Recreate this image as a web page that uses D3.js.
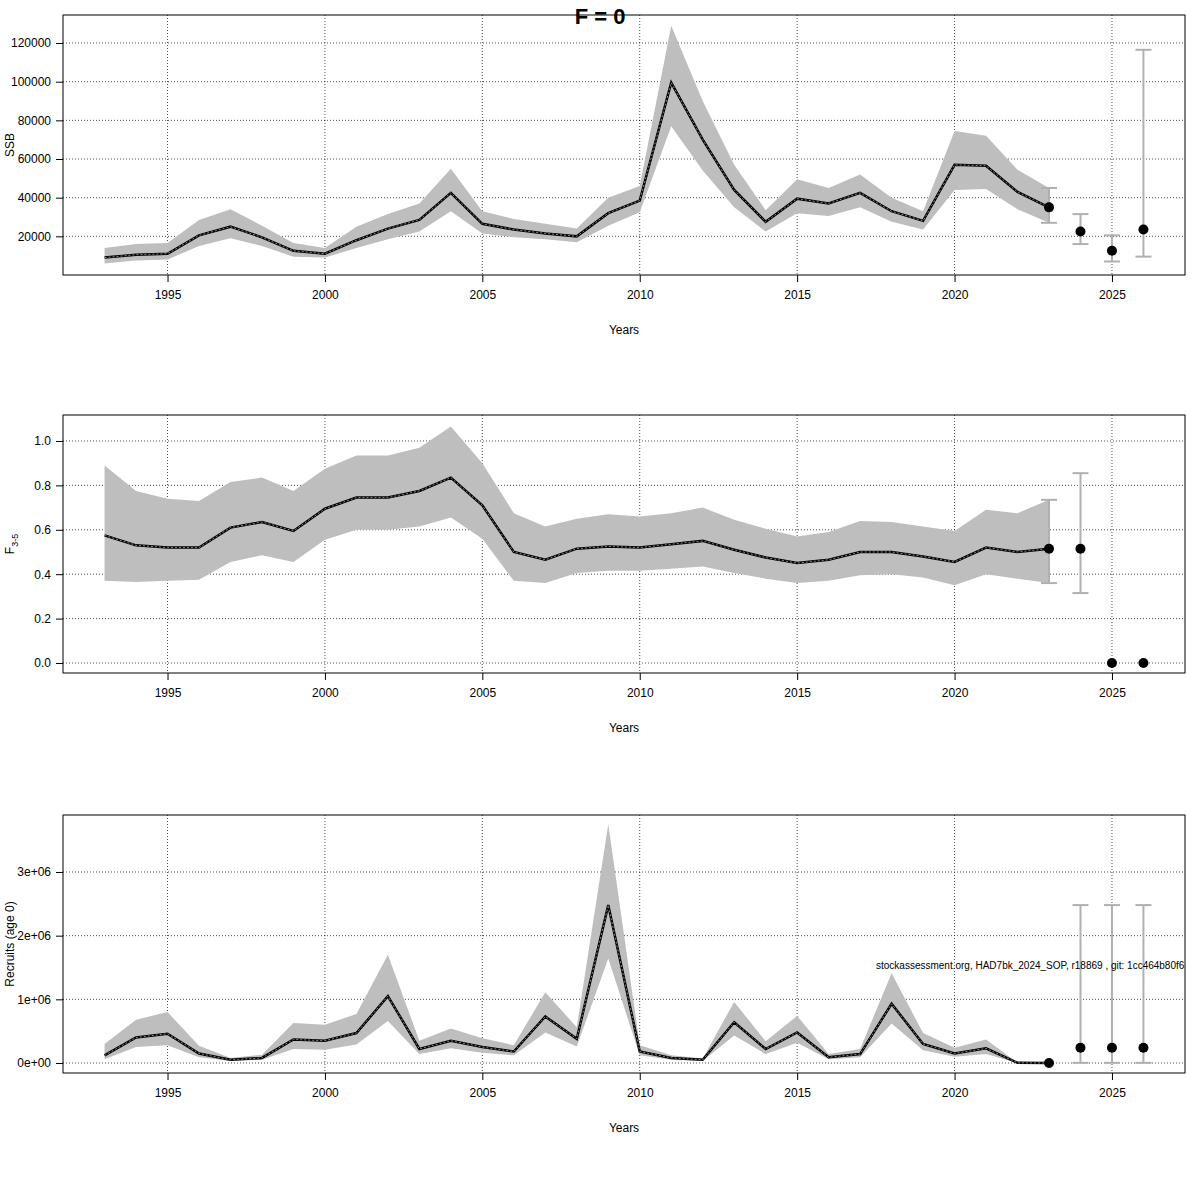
<!DOCTYPE html><html><head><meta charset="utf-8"><script src="https://cdn.jsdelivr.net/npm/d3@7"></script>
<style>body{margin:0;background:#fff}text{font-family:"Liberation Sans",Arial,sans-serif}</style></head><body>
<svg id="c" width="1200" height="1200"></svg>
<script>
const years=d3.range(1993,2024);
const ssb=[9000,10500,11000,20500,25000,19500,12500,11000,18000,24000,28500,42500,26500,23500,21500,20000,32000,38500,99500,70000,44000,27500,39500,37000,42500,33000,28000,57000,56500,43000,35000];
const ssbLo=[6000,7500,8000,15000,19000,15000,9500,9000,14000,18500,22500,33000,21500,19500,18500,17000,25500,32500,77000,54000,35000,22500,32000,30500,35000,27500,23500,44000,44500,34000,27000];
const ssbHi=[14000,16000,16500,28500,34000,25500,16500,14000,25000,31500,37000,55000,33000,29000,26500,24000,40000,46000,129000,90000,57000,33500,49500,45000,52000,40000,33000,74500,72000,54500,45000];
const fbar=[.575,.53,.52,.52,.61,.635,.595,.695,.745,.745,.775,.835,.71,.5,.465,.515,.525,.52,.535,.55,.51,.475,.45,.465,.5,.5,.48,.455,.52,.5,.515];
const fLo=[.37,.365,.37,.375,.455,.485,.455,.555,.6,.6,.615,.655,.56,.37,.36,.405,.415,.415,.425,.435,.405,.38,.36,.37,.395,.4,.385,.35,.4,.38,.36];
const fHi=[.89,.775,.74,.73,.815,.835,.775,.875,.935,.935,.97,1.065,.9,.675,.615,.65,.67,.66,.675,.7,.645,.605,.57,.59,.64,.635,.615,.595,.69,.675,.735];
const rec=[.12,.4,.46,.15,.05,.08,.37,.35,.47,1.05,.22,.35,.25,.18,.73,.38,2.48,.18,.08,.05,.64,.22,.48,.09,.14,.93,.3,.15,.23,.003,0].map(v=>v*1e6);
const recLo=[.06,.25,.28,.09,.03,.05,.22,.21,.29,.66,.14,.23,.16,.12,.48,.26,1.64,.12,.05,.03,.43,.14,.32,.06,.09,.62,.2,.1,.14,0,0].map(v=>v*1e6);
const recHi=[.3,.68,.8,.27,.08,.13,.63,.6,.77,1.7,.35,.54,.39,.28,1.11,.56,3.75,.28,.12,.07,.96,.34,.74,.14,.22,1.41,.47,.24,.37,.005,0].map(v=>v*1e6);
const fcYears=[2023,2024,2025,2026];
const fcSsb=[35000,22500,12500,23500],fcSsbLo=[27000,16000,7000,9500],fcSsbHi=[45000,31500,20500,116500];
const fcF=[.515,.515,0,0],fcFLo=[.36,.315,0,0],fcFHi=[.735,.855,0,0];
const fcRec=[0,240000,240000,240000],fcRecLo=[0,3000,3000,3000],fcRecHi=[0,2480000,2480000,2480000];
const xTicks=[1995,2000,2005,2010,2015,2020,2025];
const svg=d3.select("#c");
const x=d3.scaleLinear().domain([1991.68,2027.32]).range([63,1185]);
function panel(top,bot,dom,ticks,fmt,est,lo,hi,fe,fl,fh,ylab,sub){
  const y=d3.scaleLinear().domain(dom).range([bot,top]);
  const g=svg.append("g");
  g.selectAll(".gx").data(xTicks).join("line").attr("x1",d=>x(d)).attr("x2",d=>x(d)).attr("y1",top).attr("y2",bot).attr("stroke","#000").attr("stroke-width",0.7).attr("stroke-dasharray","1,2");
  g.selectAll(".gy").data(ticks).join("line").attr("x1",63).attr("x2",1185).attr("y1",d=>y(d)).attr("y2",d=>y(d)).attr("stroke","#000").attr("stroke-width",0.7).attr("stroke-dasharray","1,2");
  g.append("path").datum(years.map((yr,i)=>[yr,lo[i],hi[i]])).attr("fill","#bebebe")
    .attr("d",d3.area().x(d=>x(d[0])).y0(d=>y(d[1])).y1(d=>y(d[2])));
  const ln=d3.line().x((d,i)=>x(years[i])).y(d=>y(d));
  g.append("path").datum(est).attr("fill","none").attr("stroke","#000").attr("stroke-width",2.5).attr("d",ln);
  g.append("path").datum(est).attr("fill","none").attr("stroke","#888").attr("stroke-width",1).attr("stroke-dasharray","2,2").attr("d",ln);
  fcYears.forEach((yr,i)=>{
    if(fh[i]>fl[i]){
      g.append("line").attr("x1",x(yr)).attr("x2",x(yr)).attr("y1",y(fl[i])).attr("y2",y(fh[i])).attr("stroke","#b0b0b0").attr("stroke-width",2);
      [fl[i],fh[i]].forEach(v=>g.append("line").attr("x1",x(yr)-8).attr("x2",x(yr)+8).attr("y1",y(v)).attr("y2",y(v)).attr("stroke","#b0b0b0").attr("stroke-width",2));
    }
    g.append("circle").attr("cx",x(yr)).attr("cy",y(fe[i])).attr("r",5).attr("fill","#000");
  });
  g.append("rect").attr("x",63).attr("y",top).attr("width",1122).attr("height",bot-top).attr("fill","none").attr("stroke","#000");
  const ax=g.append("g").attr("transform",`translate(0,${bot})`).call(d3.axisBottom(x).tickValues(xTicks).tickFormat(d3.format("d")).tickSize(7).tickPadding(8));
  const ay=g.append("g").attr("transform","translate(63,0)").call(d3.axisLeft(y).tickValues(ticks).tickFormat(fmt).tickSize(7).tickPadding(5));
  [ax,ay].forEach(a=>{a.select(".domain").remove();a.selectAll("text").attr("font-size",12).attr("fill","#000").style("font-family","Liberation Sans, Arial");});
  g.append("text").attr("x",624).attr("y",bot+59).attr("text-anchor","middle").attr("font-size",12).text("Years");
  const t=g.append("text").attr("transform",`translate(14,${(top+bot)/2}) rotate(-90)`).attr("text-anchor","middle").attr("font-size",12).text(ylab);
  if(sub)t.append("tspan").attr("font-size",9).attr("dy",4).text(sub);
  return y;
}
panel(15,275,[0,134500],[20000,40000,60000,80000,100000,120000],d3.format("d"),ssb,ssbLo,ssbHi,fcSsb,fcSsbLo,fcSsbHi,"SSB");
panel(415,673,[-0.045,1.117],[0,.2,.4,.6,.8,1],d3.format(".1f"),fbar,fLo,fHi,fcF,fcFLo,fcFHi,"F","3-5");
panel(815,1073,[-157000,3895000],[0,1e6,2e6,3e6],d=>d===0?"0e+00":(d/1e6)+"e+06",rec,recLo,recHi,fcRec,fcRecLo,fcRecHi,"Recruits (age 0)");
svg.append("text").attr("x",600).attr("y",24).attr("text-anchor","middle").attr("font-size",22).attr("font-weight","bold").text("F = 0");
svg.append("text").attr("x",876).attr("y",969).attr("font-size",10).text("stockassessment.org, HAD7bk_2024_SOP, r18869 , git: 1cc464b80f6");
</script></body></html>
